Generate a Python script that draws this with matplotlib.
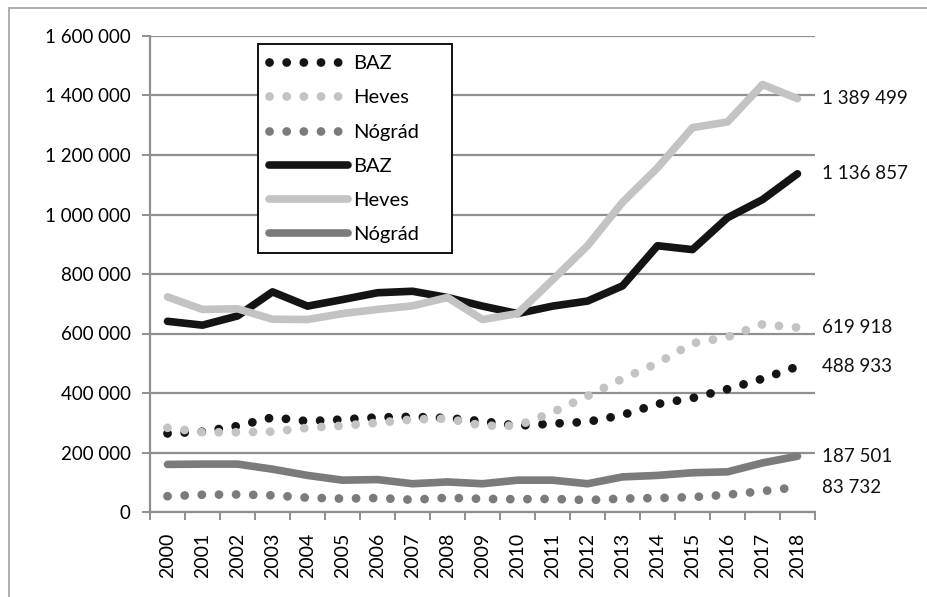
import numpy as np
import matplotlib
matplotlib.use("Agg")
from matplotlib import pyplot as plt
from matplotlib.patches import Rectangle

plt.rcParams['font.family'] = ['Lato', 'DejaVu Sans']

years = [str(y) for y in range(2000, 2019)]

# dotted series (smaller values)
baz_dot = [264000, 270000, 289000, 318000, 305000, 311000, 318000, 320000, 316000, 305000,
           290000, 297000, 303000, 326000, 363000, 383000, 413000, 448000, 488933]
heves_dot = [283000, 268000, 268000, 270000, 283000, 290000, 300000, 311000, 314000, 290000,
             290000, 335000, 390000, 448000, 500000, 567000, 588000, 631000, 619918]
nograd_dot = [53000, 58000, 59000, 56000, 48000, 45000, 47000, 41000, 48000, 44000,
              43000, 44000, 40000, 45000, 47000, 50000, 58000, 70000, 83732]

# solid series
baz_line = [641000, 628000, 659000, 740000, 692000, 714000, 737000, 742000, 721000, 692000,
            667000, 692000, 709000, 760000, 895000, 882000, 989000, 1050000, 1136857]
heves_line = [723000, 681000, 683000, 648000, 647000, 667000, 681000, 693000, 721000, 647000,
              667000, 780000, 895000, 1041000, 1157000, 1292000, 1311000, 1437000, 1389499]
nograd_line = [160000, 161000, 161000, 144000, 123000, 107000, 109000, 95000, 101000, 95000,
               107000, 107000, 95000, 118000, 123000, 132000, 135000, 165000, 187501]

c_baz = '#141414'
c_heves = '#c3c3c3'
c_nograd = '#7b7b7b'
grid_c = '#8f8f8f'

W, H = 927, 597
fig = plt.figure(figsize=(W/100, H/100), dpi=100)
ax = fig.add_axes([150/W, 1-512/H, 665/W, 476/H])

x = np.arange(len(years))
dot_style = dict(lw=6.3, linestyle=(0, (0.01, 1.95)), dash_capstyle='round')
ax.plot(x, baz_dot, color=c_baz, label='BAZ', **dot_style)
ax.plot(x, heves_dot, color=c_heves, label='Heves', **dot_style)
ax.plot(x, nograd_dot, color=c_nograd, label='Nógrád', **dot_style)
ax.plot(x, baz_line, color=c_baz, lw=5.5, label='BAZ', solid_capstyle='round')
ax.plot(x, heves_line, color=c_heves, lw=5.5, label='Heves', solid_capstyle='round')
ax.plot(x, nograd_line, color=c_nograd, lw=5.5, label='Nógrád', solid_capstyle='round')

# value labels at the last year
for s in [baz_dot, heves_dot, nograd_dot, baz_line, heves_line, nograd_line]:
    v = s[-1]
    ax.annotate(f'{v:,}'.replace(',', ' '), (x[-1], v), xytext=(18, 0),
                textcoords='offset points', va='center', ha='left', fontsize=13.5,
                color='#111111', annotation_clip=False)

ax.set_xlim(-0.5, len(years) - 0.5)
ax.set_ylim(0, 1600000)
ax.set_yticks(np.arange(0, 1600001, 200000))
ax.set_yticklabels([f'{int(v):,}'.replace(',', ' ') for v in np.arange(0, 1600001, 200000)])
ax.yaxis.grid(True, color=grid_c, lw=1.6)
ax.set_axisbelow(True)

ax.set_xticks(x)
ax.set_xticklabels(years, rotation=90)
ax.set_xticks(np.arange(-0.5, len(years)), minor=True)
ax.tick_params(axis='x', which='major', length=0, pad=15, labelsize=14)
ax.tick_params(axis='x', which='minor', length=6, width=1.4, color=grid_c)
ax.tick_params(axis='y', length=6, width=1.4, color=grid_c, labelsize=13.5, pad=8)

for sp in ['top', 'right']:
    ax.spines[sp].set_visible(False)
for sp in ['left', 'bottom']:
    ax.spines[sp].set_color(grid_c)
    ax.spines[sp].set_linewidth(1.6)

# legend box (drawn separately, it is wider than the entries)
ax.add_patch(Rectangle((258/W, 1-253/H), 194/W, 209/H, transform=fig.transFigure,
                       facecolor='white', edgecolor='#111111', lw=1.4, zorder=4))
leg = ax.legend(loc='upper left', bbox_to_anchor=(258/W, 1-44/H), bbox_transform=fig.transFigure,
                fontsize=14.5, handlelength=3.9, handletextpad=0.25, labelspacing=0.85,
                frameon=False, borderpad=0.55, borderaxespad=0)
leg.set_zorder(5)

# outer chart border
fig.patches.append(Rectangle((9/W, -0.1), 1.2, 1 - 8/H + 0.1, transform=fig.transFigure,
                             fill=False, edgecolor='#a0a0a0', lw=1.2))

fig.savefig('out.png', dpi=100)
